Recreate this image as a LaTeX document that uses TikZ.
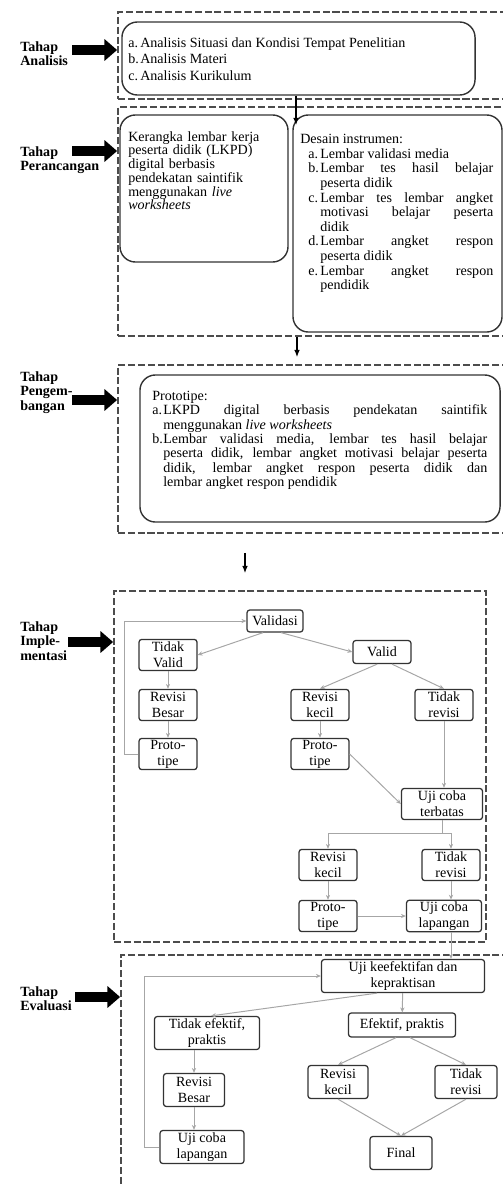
\documentclass[tikz,border=0pt]{standalone}
\usepackage{fontspec}
\setmainfont{Liberation Serif}
\usetikzlibrary{arrows.meta}

\newcommand{\butir}[2]{\par\noindent\hangindent=#1\hangafter=1\makebox[#1][l]{#2}}

\begin{document}
\begin{tikzpicture}[x=0.025cm,y=-0.025cm]

\tikzstyle{bingkai} = [draw=black!70,line width=1.2pt,dash pattern=on 5pt off 2pt,inner sep=0pt]
\tikzstyle{panel} = [draw=black!80,line width=1pt,rounded corners=11pt,inner sep=0pt]
\tikzstyle{isi} = [anchor=north west,inner sep=0pt,align=justify,font=\fontsize{10}{10.3}\selectfont]
\tikzstyle{tahap} = [anchor=north west,inner sep=0pt,align=left,font=\bfseries\fontsize{10}{10.6}\selectfont]
\tikzstyle{kotak} = [draw=black!80,line width=0.9pt,rounded corners=2pt,align=center,inner sep=1pt,minimum width=1.45cm,minimum height=0.78cm,font=\fontsize{10}{11.3}\selectfont]
\tikzstyle{panah} = [-{Triangle[length=9pt,width=15pt]},line width=6.5pt]
\tikzstyle{lanjut} = [-{Latex[length=5pt,width=4pt]},line width=0.8pt]
\tikzstyle{garis} = [-{Stealth[length=3.5pt,width=3pt]},draw=black!35,line width=0.7pt]

\useasboundingbox (0,0) rectangle (503,1184);

% bingkai tiap tahap
\node[bingkai,minimum width=9.8cm,minimum height=2.175cm] (f1) at (314,55.5) {};
\node[bingkai,minimum width=9.8cm,minimum height=5.725cm] (f2) at (314,221.5) {};
\node[bingkai,minimum width=9.8cm,minimum height=4.2cm] (f3) at (314,449) {};
\node[bingkai,minimum width=9.3cm,minimum height=8.775cm] (f4) at (300,766.5) {};
\node[bingkai,minimum width=9.725cm,minimum height=6cm] (f5) at (315.5,1075) {};

% nama tahap
\node[tahap] (lab1) at (20,41) {Tahap\\Analisis};
\node[tahap] (lab2) at (20,146) {Tahap\\Perancangan};
\node[tahap] (lab3) at (20,371) {Tahap\\Pengem-\\bangan};
\node[tahap] (lab4) at (20,621) {Tahap\\Imple-\\mentasi};
\node[tahap] (lab5) at (20,986) {Tahap\\Evaluasi};

\coordinate (t1) at (72,50);
\coordinate (t2) at (72,151);
\coordinate (t3) at (72,400);
\coordinate (t4) at (68,642);
\coordinate (t5) at (75,997);
\draw[panah] (t1) -- (t1 -| f1.west);
\draw[panah] (t2) -- (t2 -| f2.west);
\draw[panah] (t3) -- (t3 -| f3.west);
\draw[panah] (t4) -- (t4 -| f4.west);
\draw[panah] (t5) -- (t5 -| f5.west);

% analisis
\node[panel,minimum width=8.825cm,minimum height=1.825cm] (analisis) at (298.5,58.5) {};
\node[isi,text width=8.525cm,font=\fontsize{10}{11.6}\selectfont] (ta) at (128,31) {\butir{0.3cm}{a.}Analisis Situasi dan Kondisi Tempat Penelitian
\butir{0.3cm}{b.}Analisis Materi
\butir{0.3cm}{c.}Analisis Kurikulum\par};

% perancangan
\node[panel,minimum width=4.2cm,minimum height=3.675cm] (kerangka) at (204,188.5) {};
\node[isi,align=left,text width=3.8cm,font=\fontsize{10}{9.8}\selectfont] (tk) at (128,131) {Kerangka lembar kerja\\peserta didik (LKPD)\\digital berbasis\\pendekatan saintifik\\menggunakan \textit{live}\\\textit{worksheets}};
\node[panel,minimum width=5.225cm,minimum height=5.425cm] (desain) at (397.5,223.5) {};
\node[isi,text width=4.625cm,font=\fontsize{10}{10.4}\selectfont] (td) at (308,134) {\noindent\hspace*{-0.2cm}Desain instrumen:
\butir{0.3cm}{a.}Lembar validasi media
\butir{0.3cm}{b.}Lembar tes hasil belajar \linebreak peserta didik
\butir{0.3cm}{c.}Lembar tes lembar angket \linebreak motivasi belajar peserta \linebreak didik
\butir{0.3cm}{d.}Lembar angket respon \linebreak peserta didik
\butir{0.3cm}{e.}Lembar angket respon \linebreak pendidik\par};

% pengembangan
\node[panel,minimum width=9cm,minimum height=3.675cm] (prototipe) at (320,448.5) {};
\node[isi,text width=8.375cm,font=\fontsize{10}{10.2}\selectfont] (tp) at (152,391) {\noindent Prototipe:
\butir{0.275cm}{a.}LKPD digital berbasis pendekatan saintifik \linebreak menggunakan \textit{live worksheets}
\butir{0.275cm}{b.}Lembar validasi media, lembar tes hasil belajar \linebreak peserta didik, lembar angket motivasi belajar peserta \linebreak didik, lembar angket respon peserta didik dan \linebreak lembar angket respon pendidik\par};

\coordinate (m2) at (296,125);
\coordinate (m3) at (297,357);
\coordinate (m4) at (245,573);
\draw[lanjut] (analisis.south -| m2) -- (m2);
\draw[lanjut] (f2.south -| m3) -- (m3);
\draw[lanjut] ([yshift=-0.475cm]f3.south -| m4) -- (m4);

% implementasi
\node[kotak,minimum width=1.4cm,minimum height=0.55cm] (val) at (275,621) {Validasi};
\node[kotak] (tv) at (168,655) {Tidak\\Valid};
\node[kotak,minimum height=0.575cm] (vd) at (382,652) {Valid};
\node[kotak] (rb1) at (168,705) {Revisi\\Besar};
\node[kotak] (rk1) at (320,705) {Revisi\\kecil};
\node[kotak] (tr1) at (444,705) {Tidak\\revisi};
\node[kotak] (pt1) at (168,754) {Proto-\\tipe};
\node[kotak] (pt2) at (320,754) {Proto-\\tipe};
\node[kotak,minimum width=2.025cm] (uct) at (442,804) {Uji coba\\terbatas};
\node[kotak] (rk2) at (328,865) {Revisi\\kecil};
\node[kotak] (tr2) at (451,865) {Tidak\\revisi};
\node[kotak] (pt3) at (328,916) {Proto-\\tipe};
\node[kotak,minimum width=1.875cm] (ucl) at (444,916) {Uji coba\\lapangan};

\draw[garis] ([xshift=-0.3cm]val.south) -- (tv.east);
\draw[garis] ([xshift=0.15cm]val.south) -- (vd.west);
\draw[garis] ([xshift=-0.12cm]vd.south) -- (rk1.north);
\draw[garis] ([xshift=0.25cm]vd.south) -- (tr1.north);
\draw[garis] (tv) -- (rb1);
\draw[garis] (rb1) -- (pt1);
\draw[garis] (pt1.west) -- ++(-14,0) |- (val.west);
\draw[garis] (rk1) -- (pt2);
\draw[garis] (pt2.east) -- (uct.west);
\draw[garis] (tr1) -- (tr1 |- uct.north);
\draw[garis] (uct.south) -- ++(0,13) -| (rk2.north);
\draw[garis] (uct.south) -- ++(0,13) -| (tr2.north);
\draw[garis] (rk2) -- (pt3);
\draw[garis] (tr2) -- (tr2 |- ucl.north);
\draw[garis] (pt3) -- (ucl);

% evaluasi
\node[kotak,minimum width=4.075cm,minimum height=0.825cm] (uk) at (403,976) {Uji keefektifan dan\\kepraktisan};
\node[kotak,minimum width=2.625cm,minimum height=0.825cm] (te) at (207,1033) {Tidak efektif,\\praktis};
\node[kotak,minimum width=2.675cm,minimum height=0.6cm] (ef) at (402,1025) {Efektif, praktis};
\node[kotak,minimum width=1.525cm,minimum height=0.825cm] (rb2) at (194,1090) {Revisi\\Besar};
\node[kotak,minimum width=2.1cm,minimum height=0.825cm] (ucl2) at (202,1147) {Uji coba\\lapangan};
\node[kotak,minimum width=1.5cm,minimum height=0.825cm] (rk3) at (338,1082) {Revisi\\kecil};
\node[kotak,minimum width=1.55cm,minimum height=0.825cm] (tr3) at (466,1082) {Tidak\\revisi};
\node[kotak,minimum width=1.55cm,minimum height=0.825cm] (fin) at (401,1153) {Final};

\draw[garis] (tr2 |- ucl.south) -- (tr2 |- uk.north);
\draw[garis] (ucl2.west) -- ++(-15,0) |- (uk.west);
\draw[garis] ([xshift=-0.65cm]uk.south) -- ([xshift=0.1cm]te.north);
\draw[garis] (uk) -- (ef);
\draw[garis] ([xshift=-0.15cm]ef.south) -- (rk3.north);
\draw[garis] ([xshift=0.2cm]ef.south) -- (tr3.north);
\draw[garis] (rb2 |- te.south) -- (rb2.north);
\draw[garis] (rb2.south) -- (rb2.south |- ucl2.north);
\draw[garis] (rk3.south) -- (fin.north);
\draw[garis] (tr3.south) -- (fin.north);

\end{tikzpicture}
\end{document}
